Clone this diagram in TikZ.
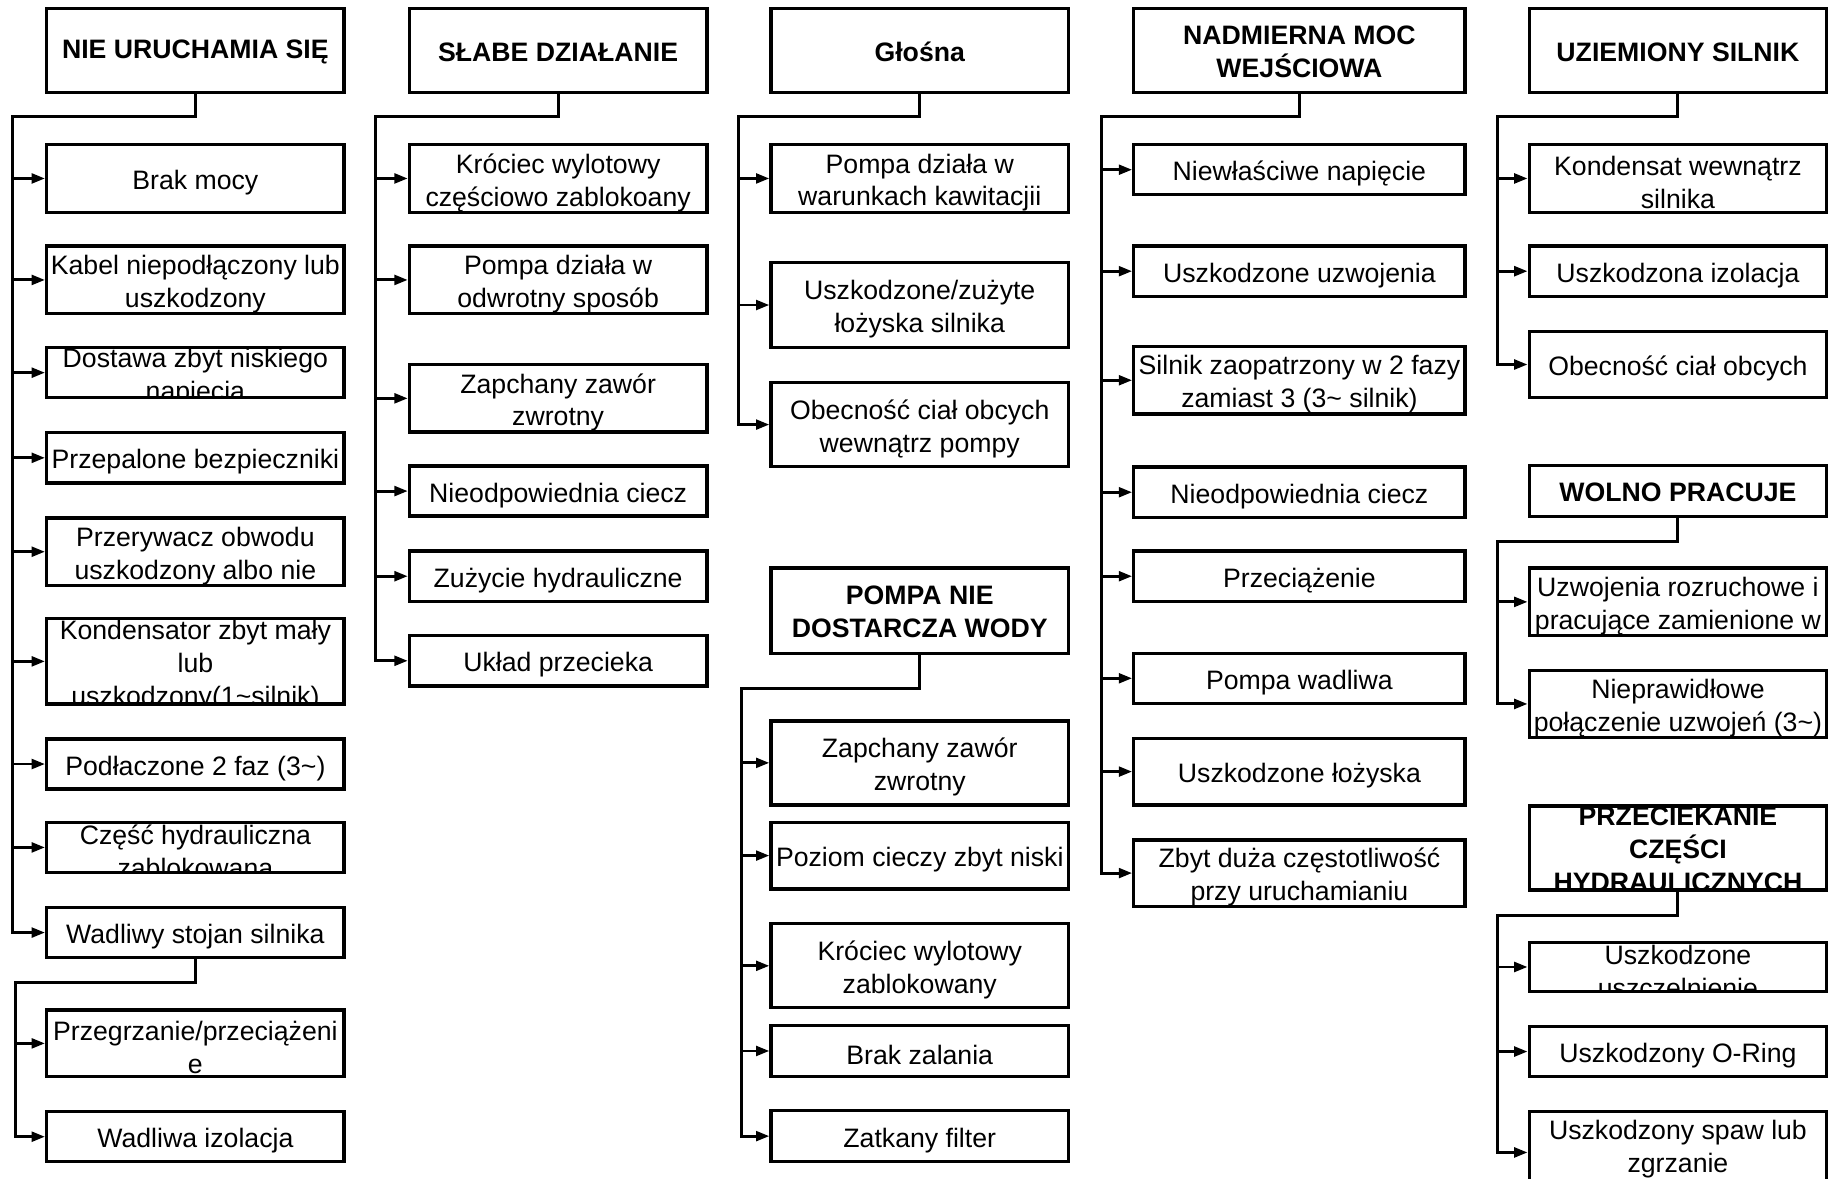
\documentclass[tikz,border=0pt]{standalone}
\usepackage{fontspec}
\setmainfont{Liberation Sans}
\usetikzlibrary{arrows.meta}
\newcommand\tld{\textasciitilde{}}
\begin{document}
\begin{tikzpicture}[x=0.42pt,y=-0.42pt,
  every node/.style={font=\fontsize{9.6pt}{11.8pt}\selectfont},
  bx/.style 2 args={draw, line width=1.2pt, inner sep=0pt,
    minimum width=#1*0.42pt, minimum height=#2*0.42pt},
  hdf/.style={font=\fontsize{9.6pt}{11.8pt}\selectfont\bfseries},
  ptx/.style={align=center, inner sep=0pt},
  tx/.style={path picture={\node[ptx] at ([yshift=-1.5pt]path picture bounding box.center) {#1};}},
  th/.style={path picture={\node[ptx,hdf] at ([yshift=-0.5pt]path picture bounding box.center) {#1};}},
  txup/.style={path picture={\node[ptx] at ([yshift=1.2pt]path picture bounding box.center) {#1};}},
  arr/.style={line width=1.05pt, -{Triangle[length=4.8pt,width=3.5pt]}},
]
\useasboundingbox (0,0) rectangle (1568,1010);
\clip (0,0) rectangle (1568,1010);

% ---------- Column 1 ----------
\node[bx={255}{72},th={NIE URUCHAMIA SIĘ}] (h1) at (167.5,43.5) {};
\node[bx={255}{58},tx={Brak mocy}] (a1) at (167.5,153) {};
\node[bx={255}{58},tx={Kabel niepodłączony lub\\uszkodzony}] (a2) at (167.5,240) {};
\node[bx={255}{43},tx={Dostawa zbyt niskiego\\napiecia}] (a3) at (167.5,319.5) {};
\node[bx={255}{43},tx={Przepalone bezpieczniki}] (a4) at (167.5,392.5) {};
\node[bx={255}{58},tx={Przerywacz obwodu\\uszkodzony albo nie}] (a5) at (167.5,473) {};
\node[bx={255}{73},tx={Kondensator zbyt mały\\lub\\uszkodzony(1\tld silnik)}] (a6) at (167.5,567) {};
\node[bx={255}{43},tx={Podłaczone 2 faz (3\tld)}] (a7) at (167.5,655) {};
\node[bx={255}{43},tx={Część hydrauliczna\\zablokowana}] (a8) at (167.5,726.5) {};
\node[bx={255}{43},tx={Wadliwy stojan silnika}] (a9) at (167.5,799.5) {};
\node[bx={255}{57},tx={Przegrzanie/przeciążeni\\e}] (a10) at (167.5,894.5) {};
\node[bx={255}{43},tx={Wadliwa izolacja}] (a11) at (167.5,974.5) {};

\coordinate (t1) at (11,100);
\draw[arr] (h1.south) |- (t1) |- (a9.west);
\foreach \n in {a1,a2,a3,a4,a5,a6,a7,a8} \draw[arr] (\n.west -| t1) -- (\n.west);
\coordinate (t1b) at (13,842);
\draw[arr] (a9.south) |- (t1b) |- (a11.west);
\draw[arr] (a10.west -| t1b) -- (a10.west);

% ---------- Column 2 ----------
\node[bx={255}{72},th={SŁABE DZIAŁANIE}] (h2) at (478.5,43.5) {};
\node[bx={255}{58},tx={Króciec wylotowy\\częściowo zablokoany}] (b1) at (478.5,153) {};
\node[bx={255}{58},tx={Pompa działa w\\odwrotny sposób}] (b2) at (478.5,240) {};
\node[bx={255}{58},tx={Zapchany zawór\\zwrotny}] (b3) at (478.5,341.5) {};
\node[bx={255}{43},tx={Nieodpowiednia ciecz}] (b4) at (478.5,421) {};
\node[bx={255}{43},tx={Zużycie hydrauliczne}] (b5) at (478.5,494) {};
\node[bx={255}{43},tx={Układ przecieka}] (b6) at (478.5,566.5) {};

\coordinate (t2) at (322,100);
\draw[arr] (h2.south) |- (t2) |- (b6.west);
\foreach \n in {b1,b2,b3,b4,b5} \draw[arr] (\n.west -| t2) -- (\n.west);

% ---------- Column 3 ----------
\node[bx={255}{72},th={Głośna}] (c0) at (788.5,43.5) {};
\node[bx={255}{58},tx={Pompa działa w\\warunkach kawitacjii}] (c1) at (788.5,153) {};
\node[bx={255}{73},tx={Uszkodzone/zużyte\\łożyska silnika}] (c2) at (788.5,261.5) {};
\node[bx={255}{72},tx={Obecność ciał obcych\\wewnątrz pompy}] (c3) at (788.5,364) {};

\coordinate (t3) at (633,100);
\draw[arr] (c0.south) |- (t3) |- (c3.west);
\foreach \n in {c1,c2} \draw[arr] (\n.west -| t3) -- (\n.west);

\node[bx={255}{73},th={POMPA NIE\\DOSTARCZA WODY}] (d0) at (788.5,523.5) {};
\node[bx={255}{72},tx={Zapchany zawór\\zwrotny}] (d1) at (788.5,654) {};
\node[bx={255}{57},tx={Poziom cieczy zbyt niski}] (d2) at (788.5,733.5) {};
\node[bx={255}{72},tx={Króciec wylotowy\\zablokowany}] (d3) at (788.5,828) {};
\node[bx={255}{44},tx={Brak zalania}] (d4) at (788.5,901) {};
\node[bx={255}{44},tx={Zatkany filter}] (d5) at (788.5,974) {};

\coordinate (t4) at (636,590);
\draw[arr] (d0.south) |- (t4) |- (d5.west);
\foreach \n in {d1,d2,d3,d4} \draw[arr] (\n.west -| t4) -- (\n.west);

% ---------- Column 4 ----------
\node[bx={284}{72},th={NADMIERNA MOC\\WEJŚCIOWA}] (e0) at (1114,43.5) {};
\node[bx={284}{43},tx={Niewłaściwe napięcie}] (e1) at (1114,145.5) {};
\node[bx={284}{43},tx={Uszkodzone uzwojenia}] (e2) at (1114,232.5) {};
\node[bx={284}{58},tx={Silnik zaopatrzony w 2 fazy\\zamiast 3 (3\tld{} silnik)}] (e3) at (1114,326) {};
\node[bx={284}{43},tx={Nieodpowiednia ciecz}] (e4) at (1114,422) {};
\node[bx={284}{43},tx={Przeciążenie}] (e5) at (1114,494) {};
\node[bx={284}{43},tx={Pompa wadliwa}] (e6) at (1114,581.5) {};
\node[bx={284}{57},tx={Uszkodzone łożyska}] (e7) at (1114,661.5) {};
\node[bx={284}{57},tx={Zbyt duża częstotliwość\\przy uruchamianiu}] (e8) at (1114,748.5) {};

\coordinate (t5) at (944,100);
\draw[arr] (e0.south) |- (t5) |- (e8.west);
\foreach \n in {e1,e2,e3,e4,e5,e6,e7} \draw[arr] (\n.west -| t5) -- (\n.west);

% ---------- Column 5 ----------
\node[bx={255}{72},th={UZIEMIONY SILNIK}] (f0) at (1438.5,43.5) {};
\node[bx={255}{58},tx={Kondensat wewnątrz\\silnika}] (f1) at (1438.5,153) {};
\node[bx={255}{43},tx={Uszkodzona izolacja}] (f2) at (1438.5,232.5) {};
\node[bx={255}{57},tx={Obecność ciał obcych}] (f3) at (1438.5,312.5) {};

\coordinate (t6) at (1284,100);
\draw[arr] (f0.south) |- (t6) |- (f3.west);
\foreach \n in {f1,f2} \draw[arr] (\n.west -| t6) -- (\n.west);

\node[bx={255}{44},th={WOLNO PRACUJE}] (g0) at (1438.5,421) {};
\node[bx={255}{58},tx={Uzwojenia rozruchowe i\\pracujące zamienione w}] (g1) at (1438.5,516) {};
\node[bx={255}{57},tx={Nieprawidłowe\\połączenie uzwojeń (3\tld)}] (g2) at (1438.5,603.5) {};

\coordinate (t7) at (1284,464);
\draw[arr] (g0.south) |- (t7) |- (g2.west);
\draw[arr] (g1.west -| t7) -- (g1.west);

\node[bx={255}{72},th={PRZECIEKANIE\\CZĘŚCI\\HYDRAULICZNYCH}] (k0) at (1438.5,727) {};
\node[bx={255}{42},tx={Uszkodzone\\uszczelnienie}] (k1) at (1438.5,829) {};
\node[bx={255}{43},tx={Uszkodzony O-Ring}] (k2) at (1438.5,901.5) {};
\node[bx={255}{70},txup={Uszkodzony spaw lub\\zgrzanie}] (k3) at (1438.5,988) {};

\coordinate (t8) at (1284,785);
\draw[arr] (k0.south) |- (t8) |- (k3.west);
\foreach \n in {k1,k2} \draw[arr] (\n.west -| t8) -- (\n.west);
\end{tikzpicture}
\end{document}
